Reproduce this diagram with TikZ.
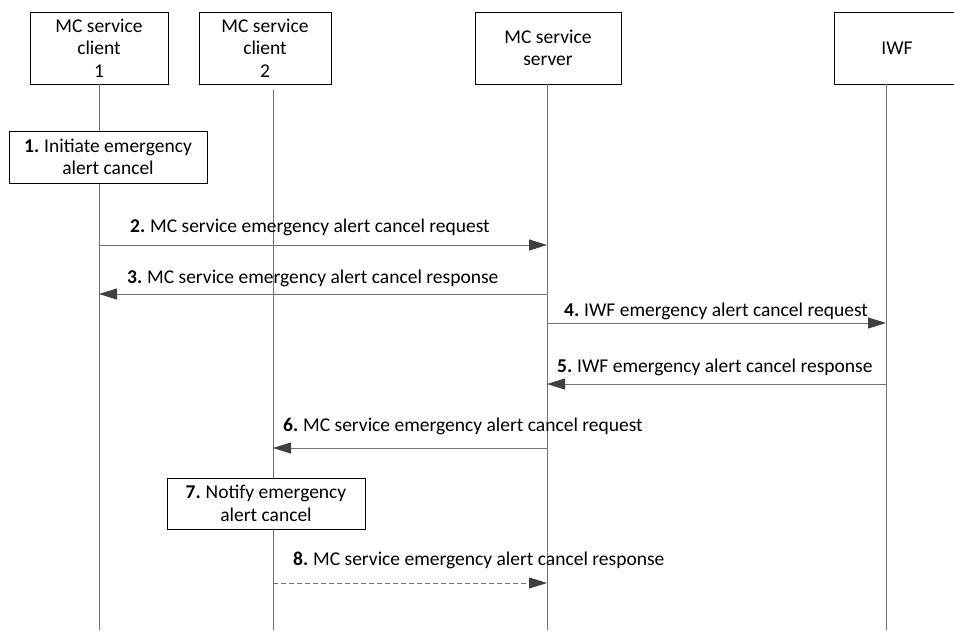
\documentclass[tikz,border=0pt]{standalone}
\usepackage{fontspec}
\setmainfont{Carlito}
\usetikzlibrary{arrows.meta}
\newcommand{\stepno}[1]{\textbf{#1.}\hspace{-1pt} }
\begin{document}
\begin{tikzpicture}[x=1pt,y=-1pt,
  every node/.style={font=\fontsize{19.5}{22.5}\selectfont, inner sep=0pt},
  ent/.style={draw=black, line width=0.8pt, fill=white, align=center},
  life/.style={draw=black!55, line width=0.9pt},
  msg/.style={draw=black!55, line width=0.9pt, -{Triangle[length=18pt,width=11pt,fill=black!75,color=black!75]}},
  lbl/.style={anchor=base west}]
\useasboundingbox (0,0) rectangle (954,630);
% entity boxes
\node[ent, minimum width=138pt, minimum height=72pt] (c1) at (99,48) {MC service\\client\\1};
\node[ent, minimum width=132pt, minimum height=72pt] (c2) at (265,48) {MC service\\client\\2};
\node[ent, minimum width=146pt, minimum height=72pt] (srv) at (548,48) {MC service\\server};
\node[ent, minimum width=126pt, minimum height=72pt] (iwf) at (897,48) {IWF};
% lifeline anchors
\coordinate (c1top) at (99,84);
\coordinate (c1bot) at (99,630);
\coordinate (c2top) at (273,90);
\coordinate (c2bot) at (273,630);
\coordinate (stop) at (547,84);
\coordinate (sbot) at (547,630);
\coordinate (itop) at (886,84);
\coordinate (ibot) at (886,630);
\draw[life] (c1top) -- (c1bot);
\draw[life] (c2top) -- (c2bot);
\draw[life] (stop) -- (sbot);
\draw[life] (itop) -- (ibot);
% action boxes
\node[ent, minimum width=198pt, minimum height=52pt] (a1) at (108,157) {\stepno{1}Initiate emergency\\alert cancel};
\node[ent, minimum width=198pt, minimum height=51pt] (a7) at (266,503.5) {\stepno{7}Notify emergency\\alert cancel};
% message points
\coordinate (m2s) at (99,245);  \coordinate (m2e) at (547,245);
\coordinate (m3s) at (547,294); \coordinate (m3e) at (99,294);
\coordinate (m4s) at (547,323); \coordinate (m4e) at (886,323);
\coordinate (m5s) at (886,384); \coordinate (m5e) at (547,384);
\coordinate (m6s) at (547,448); \coordinate (m6e) at (273,448);
\coordinate (m8s) at (273,583); \coordinate (m8e) at (547,583);
\draw[msg] (m2s) -- (m2e);
\draw[msg] (m3s) -- (m3e);
\draw[msg] (m4s) -- (m4e);
\draw[msg] (m5s) -- (m5e);
\draw[msg] (m6s) -- (m6e);
\draw[msg, dashed, dash pattern=on 5pt off 3pt] (m8s) -- (m8e);
% labels
\node[lbl] (l2) at (130,232) {\stepno{2}MC service emergency alert cancel request};
\node[lbl] (l3) at (127,283) {\stepno{3}MC service emergency alert cancel response};
\node[lbl] (l4) at (564,316) {\stepno{4}IWF emergency alert cancel request};
\node[lbl] (l5) at (557,372) {\stepno{5}IWF emergency alert cancel response};
\node[lbl] (l6) at (283,431) {\stepno{6}MC service emergency alert cancel request};
\node[lbl] (l8) at (293,565) {\stepno{8}MC service emergency alert cancel response};
\end{tikzpicture}
\end{document}
